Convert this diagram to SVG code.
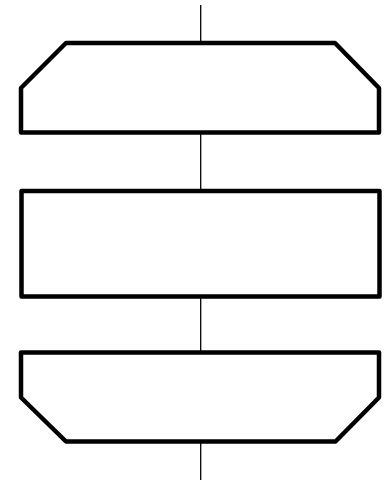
<svg xmlns="http://www.w3.org/2000/svg" width="390" height="482" viewBox="0 0 390 482">
<style>
.node{fill:#fff;stroke:#000;stroke-width:4.5;stroke-linejoin:round}
.edge{stroke:#000;stroke-width:1.3;fill:none}
</style>
<rect width="390" height="482" fill="#fff"/>
<g id="connectors">
<line class="edge" x1="200.7" y1="5" x2="200.7" y2="43"/>
<line class="edge" x1="200.7" y1="133" x2="200.7" y2="191"/>
<line class="edge" x1="200.7" y1="297" x2="200.7" y2="352"/>
<line class="edge" x1="200.7" y1="442" x2="200.7" y2="480"/>
</g>
<g id="node1"><polygon class="node" points="66,43 335,43 379,88 379,132.5 21,132.5 21,88"/></g>
<g id="node2"><rect class="node" x="21.5" y="191" width="358" height="105.5"/></g>
<g id="node3"><polygon class="node" points="21,352.5 379,352.5 379,397.5 335.5,441.5 66,441.5 21,397.5"/></g>
</svg>
